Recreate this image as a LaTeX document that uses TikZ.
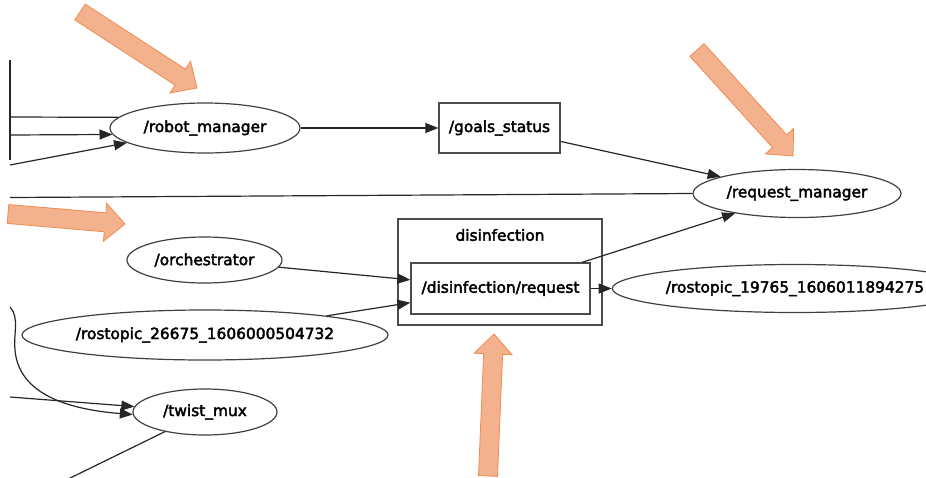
\documentclass[tikz,border=0pt]{standalone}
\usepackage{fontspec}
\setmainfont{DejaVu Sans}[BoldFont=DejaVu Sans, BoldFeatures={FakeBold=2.6}]
\usetikzlibrary{arrows.meta,shapes.geometric,calc}
\newcommand\hlarrow[2]{%
  \coordinate (hT) at #1; \coordinate (hP) at #2;
  \coordinate (hB) at ($(hP)!20pt!(hT)$);
  \draw[hl] ($(hT)!9.5pt!90:(hP)$) -- ($(hB)!9.5pt!-90:(hT)$) -- ($(hB)!19pt!-90:(hT)$) -- (hP)
    -- ($(hB)!19pt!90:(hT)$) -- ($(hB)!9.5pt!90:(hT)$) -- ($(hT)!9.5pt!-90:(hP)$) -- cycle;}
\begin{document}
\begin{tikzpicture}[x=1pt,y=-1pt,
  every node/.style={font=\fontsize{15.4}{18}\selectfont\bfseries, text=black},
  topic/.style={draw=black!70, line width=1.3pt, rectangle, inner sep=0pt},
  nodeell/.style={draw=black!75, line width=1.2pt, ellipse, inner sep=0pt},
  conn/.style={draw=black!85, line width=1.2pt},
  arr/.style={conn, -{Triangle[length=13pt,width=10pt]}},
  cluster/.style={draw=black!70, line width=1.3pt, rectangle, inner sep=0pt},
  hl/.style={fill={rgb,255:red,244;green,177;blue,142}, draw={rgb,255:red,240;green,140;blue,80}, line width=0.8pt, line join=miter}
]
\useasboundingbox (0,0) rectangle (926,477);
\clip (0,0) rectangle (926,477);

% nodes
\node[nodeell, minimum width=190pt, minimum height=50pt] (rm) at (205,128) {/robot\_manager};
\node[topic, minimum width=121pt, minimum height=50pt] (gs) at (499.5,128) {/goals\_status};
\node[nodeell, minimum width=208pt, minimum height=48pt] (req) at (797,193.5) {/request\_manager};
\node[cluster, minimum width=204pt, minimum height=106pt] (cl) at (500,272) {};
\node (cllabel) at (500,235) {disinfection};
\node[topic, minimum width=179pt, minimum height=51pt] (dr) at (500.5,288.5) {/disinfection/request};
\node[nodeell, minimum width=364pt, minimum height=48pt] (r19) at (795,288.5) {/rostopic\_19765\_1606011894275};
\node[nodeell, minimum width=155pt, minimum height=46pt] (orch) at (204.5,260) {/orchestrator};
\node[nodeell, minimum width=366pt, minimum height=50pt] (r26) at (205,335) {/rostopic\_26675\_1606000504732};
\node[nodeell, minimum width=144pt, minimum height=46pt] (tm) at (205,412) {/twist\_mux};

% free ends
\coordinate (vA) at (10,60);
\coordinate (vB) at (10,160);
\coordinate (in1) at (10,117);
\coordinate (in2) at (10,135);
\coordinate (in3) at (10,165);
\coordinate (inL) at (10,197.5);
\coordinate (tw1) at (10,397);
\coordinate (tw2) at (10,307);
\coordinate (twOut) at (60,483);

% connectors
\draw[conn] (vA) -- (vB);
\draw[conn] (in1) -- (rm.173);
\draw[arr] (in2) -- (rm.184);
\draw[arr] (in3) -- (rm);
\draw[arr] (rm) -- (gs);
\draw[arr] (gs) -- (req);
\draw[conn] (inL) -- (req.west);
\draw[arr] (orch) -- (dr);
\draw[arr] (r26) -- (dr);
\draw[arr] (dr) -- (req);
\draw[arr] (dr) -- (r19);
\draw[arr] (tw1) -- (tm);
\draw[arr] (tw2) .. controls (20,318) and (13,335) .. (15,350) .. controls (18,385) and (50,408) .. (tm.182);
\draw[conn] (tm) -- (twOut);

% highlight arrows
\hlarrow{(80,12)}{(197,88)}
\hlarrow{(697,50)}{(793,156)}
\hlarrow{(8,214)}{(125,224)}
\hlarrow{(488,476)}{(494,334)}
\end{tikzpicture}
\end{document}
